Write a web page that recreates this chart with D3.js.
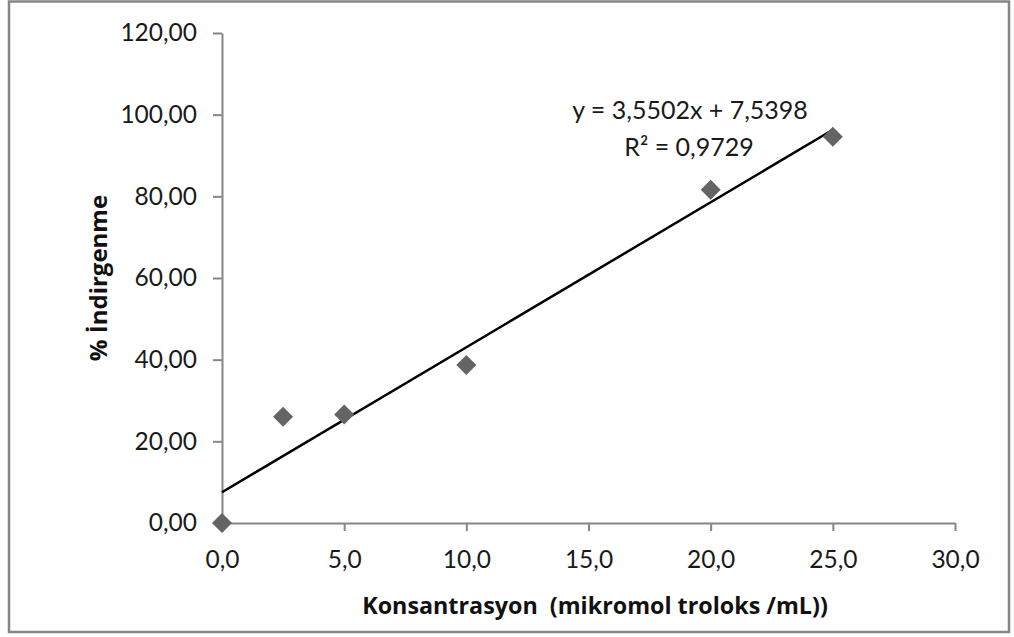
<!DOCTYPE html>
<html><head><meta charset="utf-8">
<script src="https://cdn.jsdelivr.net/npm/d3@7"></script>
<style>body{margin:0;background:#fff}svg{display:block}text{font-family:Lato,"Open Sans",sans-serif}</style>
</head><body><svg id="c" width="1014" height="637"></svg>
<script>
const concentrations = [0, 2.5, 5, 10, 20, 25];
const reductions = [0, 26.0, 26.6, 38.7, 81.6, 94.6];
const xTicks = [0, 5, 10, 15, 20, 25, 30];
const yTicks = [0, 20, 40, 60, 80, 100, 120];
const trendSlope = 3.5502, trendIntercept = 7.5398;
const equationLines = ["y = 3,5502x + 7,5398", "R² = 0,9729"];
const xTitle = "Konsantrasyon  (mikromol troloks /mL))";
const yTitle = "% İndirgenme";

const svg = d3.select("#c");
const fmt = (d, n) => d.toFixed(n).replace(".", ",");
const x = d3.scaleLinear().domain([0, 30]).range([222, 955]);
const y = d3.scaleLinear().domain([0, 120]).range([523, 33]);

svg.append("rect").attr("x", 9).attr("y", 1.5).attr("width", 1000).attr("height", 630.5)
  .attr("fill", "#fff").attr("stroke", "#868686").attr("stroke-width", 2.5);

const gx = svg.append("g").attr("transform", "translate(0,523)")
  .call(d3.axisBottom(x).tickValues(xTicks).tickSize(8).tickSizeOuter(0).tickPadding(20).tickFormat(d => fmt(d, 1)));
const gy = svg.append("g").attr("transform", "translate(222,0)")
  .call(d3.axisLeft(y).tickValues(yTicks).tickSize(9).tickSizeOuter(0).tickPadding(16).tickFormat(d => fmt(d, 2)));
[gx, gy].forEach(g => {
  g.selectAll("path,line").attr("stroke", "#868686").attr("stroke-width", 2);
  g.selectAll("text").attr("fill", "#1a1a1a").style("font-size", "24.5px").style("font-family", "Lato");
});

svg.append("line")
  .attr("x1", x(0)).attr("y1", y(trendIntercept))
  .attr("x2", x(25)).attr("y2", y(trendSlope * 25 + trendIntercept))
  .attr("stroke", "#000").attr("stroke-width", 2.5);

const sym = d3.symbol().type(d3.symbolSquare).size(200);
svg.append("g").selectAll("path").data(concentrations).join("path")
  .attr("d", sym)
  .attr("transform", (d, i) => `translate(${x(d)},${y(reductions[i])}) rotate(45)`)
  .attr("fill", "#646464");

svg.append("text").attr("x", 690).attr("y", 119).attr("text-anchor", "middle")
  .style("font-size", "25px").attr("fill", "#1a1a1a").text(equationLines[0]);
svg.append("text").attr("x", 689).attr("y", 156).attr("text-anchor", "middle")
  .style("font-size", "25px").attr("fill", "#1a1a1a").text(equationLines[1]);

svg.append("text").attr("x", 595).attr("y", 614).attr("text-anchor", "middle")
  .style("font-size", "23.3px").style("font-weight", "bold").style("font-family", "'Open Sans'").attr("fill", "#111")
  .attr("xml:space", "preserve").style("white-space", "pre").text(xTitle);
svg.append("text").attr("transform", "translate(107,278) rotate(-90)").attr("text-anchor", "middle")
  .style("font-size", "24px").style("font-weight", "bold").style("font-family", "'Open Sans'").attr("fill", "#111").text(yTitle);
</script></body></html>
